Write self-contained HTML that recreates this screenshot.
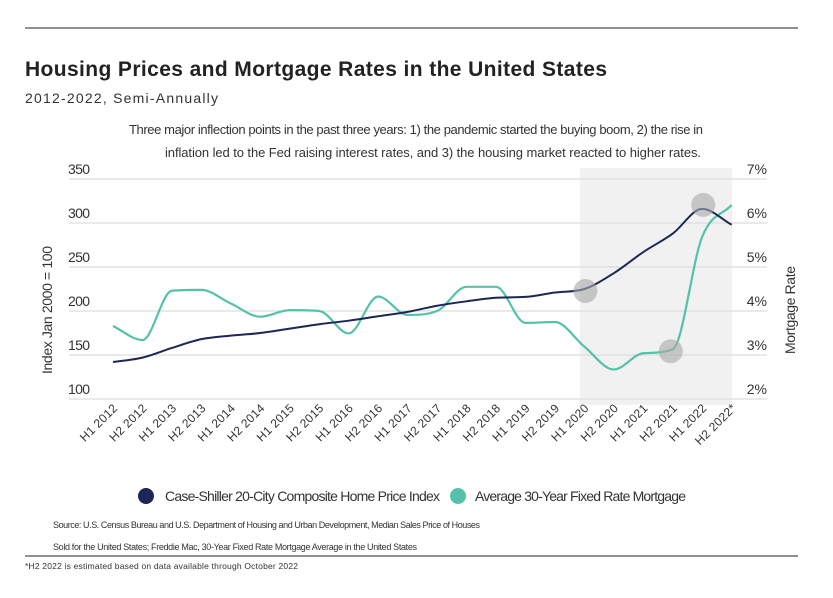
<!DOCTYPE html>
<html><head><meta charset="utf-8"><style>
body{margin:0;background:#fff;width:833px;height:593px;overflow:hidden;font-family:"Liberation Sans",sans-serif;}
</style></head><body>
<svg width="833" height="593" xmlns="http://www.w3.org/2000/svg" id="svg">
<line x1="25" y1="28" x2="798" y2="28" stroke="#222" stroke-width="1"/>
<text x="25" y="76" font-size="21" font-weight="bold" fill="#222" textLength="582">Housing Prices and Mortgage Rates in the United States</text>
<text x="25" y="103" font-size="14" fill="#333" textLength="193">2012-2022, Semi-Annually</text>
<text x="416" y="134" font-size="13" fill="#333" text-anchor="middle" textLength="574">Three major inflection points in the past three years: 1) the pandemic started the buying boom, 2) the rise in</text>
<text x="433" y="157" font-size="13" fill="#333" text-anchor="middle" textLength="536">inflation led to the Fed raising interest rates, and 3) the housing market reacted to higher rates.</text>
<rect x="580" y="168" width="152" height="237" fill="#f1f1f1"/>
<g id="grid"></g><g id="lines"></g><g id="marks"></g>
<text transform="translate(52,310) rotate(-90)" font-size="14" fill="#333" text-anchor="middle" textLength="128">Index Jan 2000 = 100</text>
<text transform="translate(795,310) rotate(-90)" font-size="14" fill="#333" text-anchor="middle" textLength="88">Mortgage Rate</text>
<g>
<circle cx="146" cy="496" r="8" fill="#1c2657"/>
<text x="165" y="501" font-size="14" fill="#333" textLength="275">Case-Shiller 20-City Composite Home Price Index</text>
<circle cx="458" cy="496" r="8" fill="#55c1a9"/>
<text x="475" y="501" font-size="14" fill="#333" textLength="211">Average 30-Year Fixed Rate Mortgage</text>
</g>
<text x="53" y="528" font-size="9" fill="#333" textLength="427">Source:  U.S. Census Bureau and U.S. Department of Housing and Urban Development, Median Sales Price of Houses</text>
<text x="53" y="550" font-size="9" fill="#333" textLength="364">Sold for the United States; Freddie Mac, 30-Year Fixed Rate Mortgage Average in the United States</text>
<line x1="25" y1="556" x2="798" y2="556" stroke="#222" stroke-width="1"/>
<text x="25" y="569" font-size="8.5" fill="#333" textLength="273">*H2 2022 is estimated based on data available through October 2022</text>
</svg>
<script>
const categories=["H1 2012","H2 2012","H1 2013","H2 2013","H1 2014","H2 2014","H1 2015","H2 2015","H1 2016","H2 2016","H1 2017","H2 2017","H1 2018","H2 2018","H1 2019","H2 2019","H1 2020","H2 2020","H1 2021","H2 2021","H1 2022","H2 2022*"];
const indexValues=[142,147,158,168,172,175,180,185,189,194,199,206,211,215,216,221,225,243,267,288,316,298];
const mortgageValues=[3.66,3.34,4.46,4.48,4.17,3.87,4.02,4.0,3.49,4.33,3.91,4.0,4.55,4.55,3.73,3.75,3.19,2.67,3.04,3.13,5.69,6.41];
const leftTicks=[100,150,200,250,300,350];
const rightTicks=[2,3,4,5,6,7];
const highlights=[{series:"index",i:16},{series:"mortgage",i:19},{series:"index",i:20}];
const NS="http://www.w3.org/2000/svg";
const x0=113,x1=731.7,yTop=179,yBot=399;
const xs=i=>x0+(x1-x0)*i/(categories.length-1);
const yL=v=>yBot-(v-100)/250*(yBot-yTop);
const yR=v=>yBot-(v-2)/5*(yBot-yTop);
function mk(t,a,p){const e=document.createElementNS(NS,t);for(const k in a)e.setAttribute(k,a[k]);p.appendChild(e);return e;}
const grid=document.getElementById('grid'),lines=document.getElementById('lines'),marks=document.getElementById('marks');
leftTicks.forEach((v,k)=>{const y=yL(v);
const l=mk('line',{x1:69,x2:767,y1:y,y2:y,stroke:'#d6d6d6','stroke-width':1},grid);


const t=mk('text',{x:68,y:y-5,'font-size':14,fill:'#333',textLength:22},grid);t.textContent=v;


const r=mk('text',{x:767,y:yR(rightTicks[k])-5,'font-size':14,fill:'#333','text-anchor':'end'},grid);r.textContent=rightTicks[k]+'%';


});
categories.forEach((c,i)=>{const x=xs(i);
const t=mk('text',{transform:`translate(${x+5},${409}) rotate(-45)`,'font-size':12,fill:'#333','text-anchor':'end',textLength:c.length>7?52:47},grid);t.textContent=c;


});
function path(pts){const n=pts.length;const d=[],m=[];
for(let i=0;i<n-1;i++)d.push((pts[i+1][1]-pts[i][1])/(pts[i+1][0]-pts[i][0]));
for(let i=0;i<n;i++){if(i===0)m.push(d[0]);else if(i===n-1)m.push(d[n-2]);else m.push(d[i-1]*d[i]<=0?0:(d[i-1]+d[i])/2);}
for(let i=0;i<n-1;i++){if(d[i]===0){m[i]=0;m[i+1]=0;continue;}const a=m[i]/d[i],b=m[i+1]/d[i],s=a*a+b*b;if(s>9){const t=3/Math.sqrt(s);m[i]=t*a*d[i];m[i+1]=t*b*d[i];}}
let s=`M${pts[0][0]},${pts[0][1]}`;
for(let i=0;i<n-1;i++){const h=(pts[i+1][0]-pts[i][0])/3;
s+=` C${pts[i][0]+h},${pts[i][1]+m[i]*h} ${pts[i+1][0]-h},${pts[i+1][1]-m[i+1]*h} ${pts[i+1][0]},${pts[i+1][1]}`;}return s;}
const pm=mk('path',{d:path(mortgageValues.map((v,i)=>[xs(i),yR(v)])),fill:'none',stroke:'#55c1a9','stroke-width':2.2},lines);


const pi=mk('path',{d:path(indexValues.map((v,i)=>[xs(i),yL(v)])),fill:'none',stroke:'#1c2657','stroke-width':2},lines);


highlights.forEach(h=>{const y=h.series==='index'?yL(indexValues[h.i]):yR(mortgageValues[h.i]);
const c=mk('circle',{cx:xs(h.i)+(h.series==='index'?1:-2),cy:y-(h.series==='index'&&h.i===20?4:-2),r:12,fill:'#a8a8a8','fill-opacity':0.6},marks);


});
</script>
</body></html>
